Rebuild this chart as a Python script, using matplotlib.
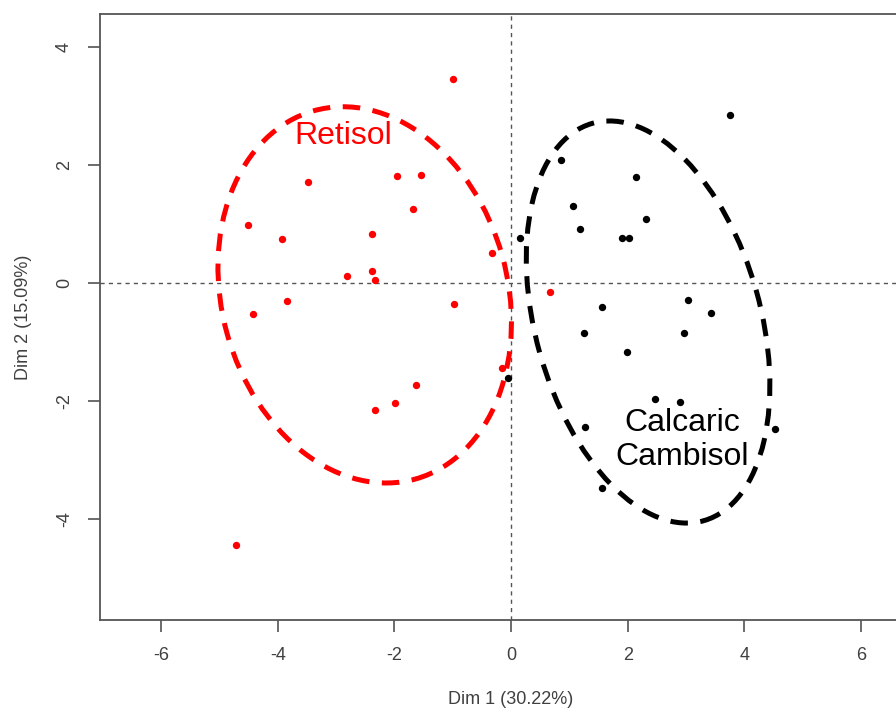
import matplotlib
matplotlib.use("Agg")
import matplotlib.pyplot as plt
from matplotlib.patches import Ellipse

plt.rcParams["font.family"] = ["Liberation Sans", "DejaVu Sans"]
plt.rcParams["axes.unicode_minus"] = False

# individuals, Dim 1 / Dim 2 coordinates
retisol_x = [-0.99, -3.48, -1.96, -1.54, -1.68, -4.52, -3.93, -2.38, -0.33, -2.82,
             -2.38, -2.33, -3.84, -4.43, -0.98, 0.67, -0.15, -1.63, -1.99, -2.33, -4.72]
retisol_y = [3.46, 1.71, 1.82, 1.83, 1.26, 0.98, 0.75, 0.83, 0.51, 0.12,
             0.20, 0.06, -0.30, -0.52, -0.36, -0.15, -1.44, -1.73, -2.03, -2.15, -4.44]

cambisol_x = [3.76, 0.86, 2.14, 1.06, 2.31, 1.19, 1.91, 2.02, 0.15, 3.03, 1.56,
              3.43, 1.25, 2.97, 1.98, -0.05, 2.47, 2.90, 1.27, 4.53, 1.56]
cambisol_y = [2.85, 2.08, 1.80, 1.31, 1.08, 0.91, 0.76, 0.76, 0.77, -0.29, -0.40,
              -0.50, -0.85, -0.85, -1.17, -1.61, -1.96, -2.02, -2.44, -2.47, -3.48]

# confidence ellipses: center x, center y, width, height, angle
retisol_ell = (-2.51, -0.20, 4.9, 6.48, 15.8)
cambisol_ell = (2.35, -0.66, 3.86, 7.0, 15.9)

x_ticks = [-6, -4, -2, 0, 2, 4, 6]
y_ticks = [-4, -2, 0, 2, 4]

fig = plt.figure(figsize=(8.96, 7.11), dpi=100)
# axes run past the right edge, the original is cropped there
ax = fig.add_axes([0.1116, 0.128, 0.9208, 0.8523])
ax.set_xlim(-7.05, 7.1)
ax.set_ylim(-5.71, 4.56)

ax.axhline(0, color="#555555", lw=1, linestyle=(0, (3, 3)), zorder=1)
ax.axvline(0, color="#555555", lw=1, linestyle=(0, (3, 3)), zorder=1)

ax.plot(retisol_x, retisol_y, "o", color="#ff0000", ms=5.3, mec="none", zorder=3)
ax.plot(cambisol_x, cambisol_y, "o", color="black", ms=5.3, mec="none", zorder=3)

for (cx, cy, w, h, ang), col in [(retisol_ell, "#ff0000"), (cambisol_ell, "black")]:
    e = Ellipse((cx, cy), w, h, angle=ang, fill=False, edgecolor=col,
                lw=3.6, linestyle=(0, (3.5, 2.5)), zorder=2)
    ax.add_patch(e)

ax.text(-2.88, 2.49, "Retisol", color="#ff0000", fontsize=23, ha="center", va="center")
ax.text(2.93, -2.66, "Calcaric\nCambisol", color="black", fontsize=23,
        ha="center", va="center", linespacing=1.2)

ax.set_xticks(x_ticks)
ax.set_yticks(y_ticks)
ax.tick_params(length=8.5, width=1.1, color="#444444", labelcolor="#404040",
               labelsize=13, pad=11)
for lab in ax.get_yticklabels():
    lab.set_rotation(90)
    lab.set_va("center")

for side in ["left", "bottom", "top", "right"]:
    ax.spines[side].set_color("#555555")
    ax.spines[side].set_linewidth(1.3)

fig.text(511 / 896, 1 - 700 / 711, "Dim 1 (30.22%)", ha="center", va="center",
         fontsize=13, color="#404040")
fig.text(23 / 896, 1 - 317 / 711, "Dim 2 (15.09%)", ha="center", va="center",
         fontsize=13, color="#404040", rotation=90)

fig.savefig("out.png", dpi=100)
